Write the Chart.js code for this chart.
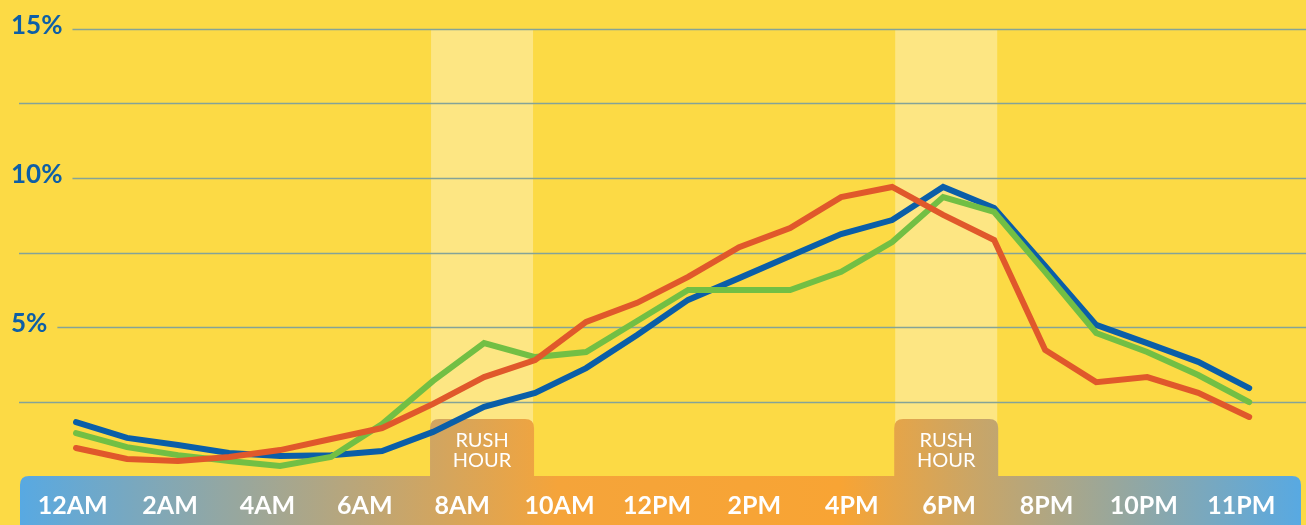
<!DOCTYPE html>
<html>
<head>
<meta charset="utf-8">
<script src="https://cdn.jsdelivr.net/npm/chart.js@4.4.1/dist/chart.umd.min.js"></script>
<style>
  html, body { margin: 0; padding: 0; background: #fcda45; }
  #wrap { width: 1306px; height: 525px; }
</style>
</head>
<body>
<div id="wrap"><canvas id="trafficChart" width="1306" height="525"></canvas></div>
<script>
// hours of the day (0 = 12AM)
const hours = [0, 1, 2, 3, 4, 5, 6, 7, 8, 9, 10, 11, 12, 13, 14, 15, 16, 17, 18, 19, 20, 21, 22, 23];
const hourLabels = ['12AM', '2AM', '4AM', '6AM', '8AM', '10AM', '12PM', '2PM', '4PM', '6PM', '8PM', '10PM', '11PM'];
const yTicks = [2.5, 5, 7.5, 10, 12.5, 15];

// share of trips per hour (%)
const blueSeries  = [1.81, 1.28, 1.04, 0.77, 0.67, 0.70, 0.84, 1.48, 2.32, 2.79, 3.62, 4.73, 5.91, 6.64, 7.38, 8.12, 8.59, 9.70, 8.99, 7.05, 5.07, 4.46, 3.83, 2.95];
const greenSeries = [1.44, 0.97, 0.70, 0.50, 0.34, 0.64, 1.74, 3.19, 4.46, 3.99, 4.16, 5.20, 6.24, 6.24, 6.24, 6.85, 7.85, 9.36, 8.86, 6.85, 4.80, 4.16, 3.39, 2.48];
const redSeries   = [0.94, 0.57, 0.50, 0.64, 0.87, 1.24, 1.61, 2.42, 3.32, 3.89, 5.17, 5.81, 6.68, 7.68, 8.32, 9.36, 9.70, 8.76, 7.92, 4.23, 3.15, 3.32, 2.79, 1.98];

// rush hour windows (hours)
const rushHours = [[6.96, 8.96], [16.06, 18.06]];

const YELLOW = '#fcda45';
const toPoints = arr => arr.map((v, i) => ({ x: hours[i], y: v }));

function barGradient(ctx) {
    const g = ctx.createLinearGradient(20, 0, 1301, 0);
    g.addColorStop(0, '#58a9e2');
    g.addColorStop(0.42, '#f5a43a');
    g.addColorStop(0.64, '#f8a434');
    g.addColorStop(1, '#58a9e2');
    return g;
}

function topRoundRect(ctx, x1, y1, x2, y2, r) {
    ctx.beginPath();
    ctx.moveTo(x1, y2);
    ctx.lineTo(x1, y1 + r);
    ctx.quadraticCurveTo(x1, y1, x1 + r, y1);
    ctx.lineTo(x2 - r, y1);
    ctx.quadraticCurveTo(x2, y1, x2, y1 + r);
    ctx.lineTo(x2, y2);
    ctx.closePath();
}

// background decoration: bands, grid, y labels, bottom bar
const decor = {
    id: 'decor',
    beforeDraw(chart) {
        const { ctx, chartArea, scales } = chart;
        const W = chart.width, H = chart.height;
        ctx.save();
        ctx.fillStyle = YELLOW;
        ctx.fillRect(0, 0, W, H);

        // rush hour bands
        ctx.fillStyle = '#fde683';
        rushHours.forEach(([a, b]) => {
            const x1 = scales.x.getPixelForValue(a);
            const x2 = scales.x.getPixelForValue(b);
            ctx.fillRect(x1, chartArea.top, x2 - x1, chartArea.bottom - chartArea.top);
        });

        // gridlines + percent labels
        ctx.font = 'bold 26px Lato';
        ctx.textBaseline = 'alphabetic';
        ctx.textAlign = 'left';
        yTicks.forEach(v => {
            const y = Math.round(scales.y.getPixelForValue(v)) + 0.5;
            let startX = 19;
            if (v % 5 === 0) {
                const txt = v + '%';
                ctx.fillStyle = '#0d5fa7';
                ctx.fillText(txt, 11, y + 4);
                startX = 11 + ctx.measureText(txt).width + 10;
            }
            ctx.strokeStyle = '#84a398';
            ctx.lineWidth = 1.3;
            ctx.beginPath();
            ctx.moveTo(startX, y);
            ctx.lineTo(W, y);
            ctx.stroke();
        });

        // bottom bar
        const grad = barGradient(ctx);
        ctx.fillStyle = grad;
        topRoundRect(ctx, 20, chartArea.bottom, 1301, H, 9);
        ctx.fill();

        // rush hour tabs
        rushHours.forEach(([a, b]) => {
            const x1 = scales.x.getPixelForValue(a) - 1;
            const x2 = scales.x.getPixelForValue(b) + 1;
            ctx.fillStyle = grad;
            topRoundRect(ctx, x1, 419, x2, chartArea.bottom + 1, 9);
            ctx.fill();
            ctx.fillStyle = '#ffffff';
            ctx.font = '20px Lato';
            ctx.textAlign = 'center';
            ctx.textBaseline = 'middle';
            ctx.fillText('RUSH', (x1 + x2) / 2, 441);
            ctx.fillText('HOUR', (x1 + x2) / 2, 461);
        });
        ctx.restore();
    }
};

const lineStyle = {
    borderWidth: 6,
    pointRadius: 0,
    tension: 0,
    borderCapStyle: 'round',
    borderJoinStyle: 'miter',
    fill: false,
    clip: false,
    xAxisID: 'x',
    yAxisID: 'y'
};

new Chart(document.getElementById('trafficChart'), {
    type: 'line',
    data: {
        datasets: [
            { ...lineStyle, label: 'Red', data: toPoints(redSeries), borderColor: '#e0582b', order: 0 },
            { ...lineStyle, label: 'Green', data: toPoints(greenSeries), borderColor: '#72bf44', order: 1 },
            { ...lineStyle, label: 'Blue', data: toPoints(blueSeries), borderColor: '#0a5ea8', order: 2 }
        ]
    },
    options: {
        responsive: false,
        devicePixelRatio: 1,
        animation: false,
        events: [],
        layout: { padding: { top: 29, left: 24, right: 16, bottom: 0 } },
        plugins: { legend: { display: false }, tooltip: { enabled: false } },
        scales: {
            x: { type: 'linear', min: -1.02, max: 23.8, display: false },
            x2: {
                type: 'category',
                labels: hourLabels,
                position: 'bottom',
                offset: true,
                grid: { display: false, drawTicks: false },
                border: { display: false },
                ticks: {
                    color: '#ffffff',
                    font: { family: 'Lato', size: 25, weight: 'bold' },
                    padding: 15,
                    maxRotation: 0,
                    autoSkip: false
                },
                afterFit: s => { s.height = 49; }
            },
            y: { type: 'linear', min: 0, max: 15, display: false }
        }
    },
    plugins: [decor]
});
</script>
</body>
</html>
